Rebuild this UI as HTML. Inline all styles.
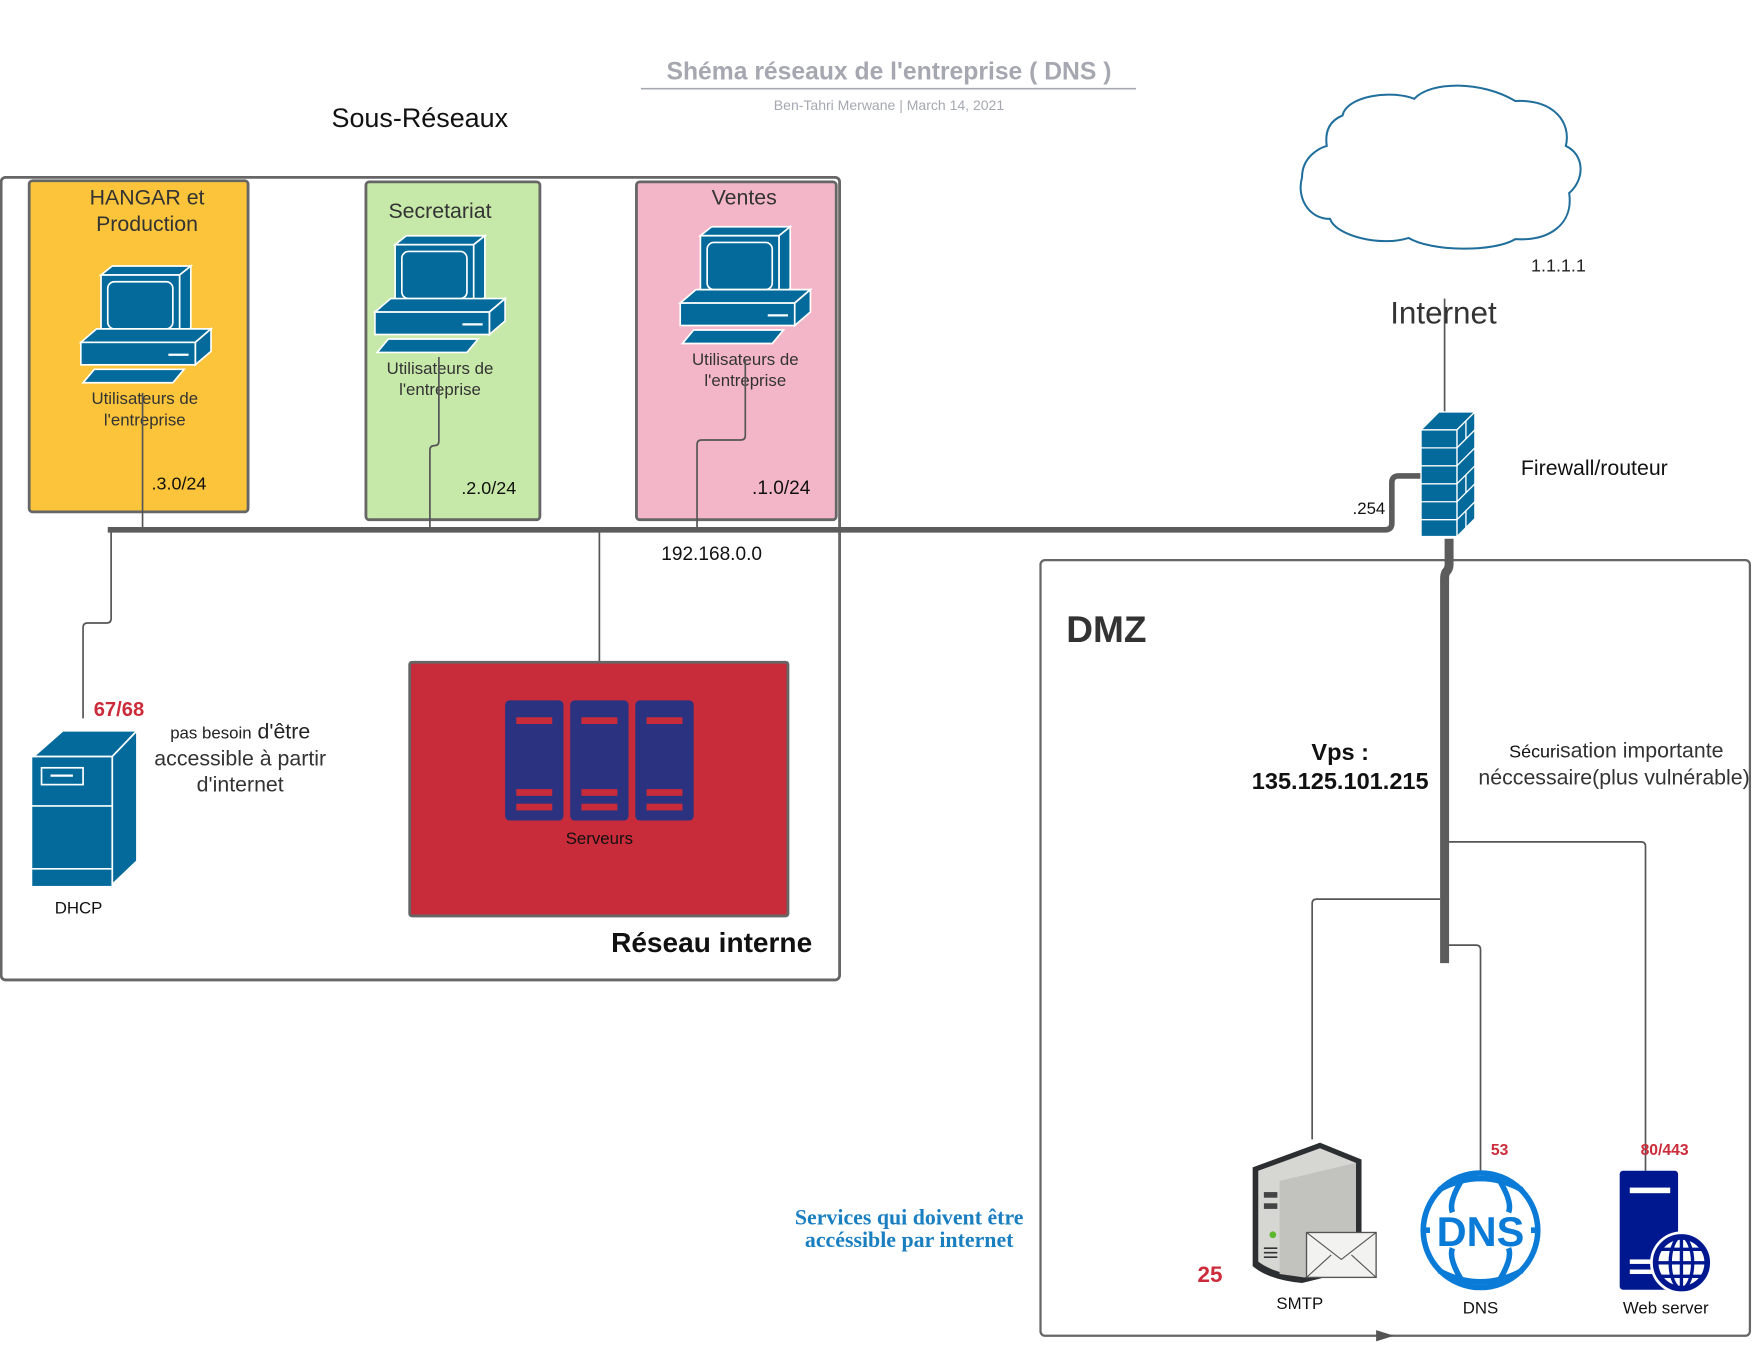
<!DOCTYPE html>
<html><head><meta charset="utf-8"><style>
html,body{margin:0;padding:0;background:#fff;}
svg{display:block;}
text{font-family:"Liberation Sans",sans-serif;}
</style></head><body>
<svg width="1760" height="1360" viewBox="0 0 1568 1211.6" preserveAspectRatio="none" xmlns="http://www.w3.org/2000/svg">
<defs>
<g id="pc" stroke="#fff" stroke-width="1.5" fill="#036a9b">
<polygon points="18,8 28,0 98,0 88,8"/>
<polygon points="88,8 98,0 98,55 88,63"/>
<rect x="18" y="8" width="70" height="55"/>
<rect x="24" y="14" width="58" height="42" rx="6"/>
<polygon points="0,68 14,56 116,56 102,68"/>
<polygon points="102,68 116,56 116,76 102,88"/>
<rect x="0" y="68" width="102" height="20"/>
<line x1="78" y1="79" x2="96" y2="79" stroke-width="2"/>
<polygon points="2,104 12,92 92,92 82,104"/>
</g>
</defs>

<text x="792" y="71" font-size="22" font-weight="bold" fill="#a5a8b0" text-anchor="middle">Shéma réseaux de l'entreprise ( DNS )</text>
<line x1="571" y1="79" x2="1012" y2="79" stroke="#a5a8b0" stroke-width="1.5"/>
<text x="792" y="98" font-size="12.5" fill="#a5a8b0" text-anchor="middle">Ben-Tahri Merwane  |  March 14, 2021</text>
<text x="374" y="113" font-size="24" fill="#111" text-anchor="middle">Sous-Réseaux</text>

<rect x="1" y="158" width="747" height="715" rx="4" fill="none" stroke="#666" stroke-width="2.5"/>
<rect x="26" y="161" width="195" height="295" rx="3" fill="#fbc43a" stroke="#666" stroke-width="2.5"/>
<rect x="326" y="162" width="155" height="301" rx="3" fill="#c6e8a8" stroke="#666" stroke-width="2.5"/>
<rect x="567" y="162" width="178" height="301" rx="3" fill="#f3b6c8" stroke="#666" stroke-width="2.5"/>

<text x="131" y="182" font-size="19" fill="#333" text-anchor="middle">HANGAR et</text>
<text x="131" y="206" font-size="19" fill="#333" text-anchor="middle">Production</text>
<text x="392" y="194" font-size="19" fill="#333" text-anchor="middle">Secretariat</text>
<text x="663" y="182" font-size="19" fill="#333" text-anchor="middle">Ventes</text>

<use href="#pc" x="72" y="237"/>
<use href="#pc" x="334" y="210"/>
<use href="#pc" x="606" y="202"/>

<text x="129" y="360" font-size="15" fill="#333" text-anchor="middle">Utilisateurs de</text>
<text x="129" y="379" font-size="15" fill="#333" text-anchor="middle">l'entreprise</text>
<text x="392" y="333" font-size="15" fill="#333" text-anchor="middle">Utilisateurs de</text>
<text x="392" y="352" font-size="15" fill="#333" text-anchor="middle">l'entreprise</text>
<text x="664" y="325" font-size="15" fill="#333" text-anchor="middle">Utilisateurs de</text>
<text x="664" y="344" font-size="15" fill="#333" text-anchor="middle">l'entreprise</text>

<text x="135" y="436" font-size="16" fill="#111">.3.0/24</text>
<text x="411" y="440" font-size="16" fill="#111">.2.0/24</text>
<text x="670" y="440" font-size="17" fill="#111">.1.0/24</text>

<g fill="none" stroke="#555" stroke-width="1.5">
<path d="M127 350 V472"/>
<path d="M391 318 V393 Q391 397 387 397 H387 Q383 397 383 401 V472"/>
<path d="M664 320 V388 Q664 392 660 392 H625 Q621 392 621 396 V472"/>
<path d="M534 472 V590"/>
<path d="M99 472 V551 Q99 555 95 555 H78 Q74 555 74 559 V640"/>
<path d="M1287 266 V370"/>
<path d="M1283 801 H1173 Q1169 801 1169 805 V1015"/>
<path d="M1287 842 H1315 Q1319 842 1319 846 V1043"/>
<path d="M1291 750 H1462 Q1466 750 1466 754 V1043"/>
</g>

<path d="M96 472 H1234 Q1240 472 1240 466 V430 Q1240 424 1246 424 H1268" fill="none" stroke="#5c5c5c" stroke-width="5"/>
<text x="634" y="499" font-size="17" fill="#111" text-anchor="middle">192.168.0.0</text>
<text x="1205" y="458" font-size="15" fill="#111">.254</text>

<rect x="927" y="499" width="632" height="691" rx="4" fill="none" stroke="#666" stroke-width="2"/>
<polygon points="1226,1185 1242,1190 1226,1195" fill="#555"/>
<text x="950" y="572" font-size="33" font-weight="bold" fill="#333">DMZ</text>

<path d="M1291 480 V503 Q1291 507 1288 510 Q1287 512 1287 516 V858" fill="none" stroke="#5c5c5c" stroke-width="8"/>

<g stroke="#fff" stroke-width="1.2" fill="#036a9b">
<polygon points="1266,383 1282,367 1314,367 1298,383"/>
<polygon points="1298,383 1314,367 1314,462 1298,478"/>
<rect x="1266" y="383" width="32" height="95"/>
<path d="M1266 399 H1298 M1266 415 H1298 M1266 431 H1298 M1266 447 H1298 M1266 463 H1298" fill="none"/>
<path d="M1298 399 L1314 383 M1298 415 L1314 399 M1298 431 L1314 415 M1298 447 L1314 431 M1298 463 L1314 447 M1306 375 V391 M1306 423 V439 M1306 455 V470" fill="none"/>
</g>
<text x="1355" y="423" font-size="19" fill="#111">Firewall/routeur</text>

<path d="M1196 103 C1200 85 1240 80 1260 88 C1275 72 1320 72 1350 90 C1385 88 1400 110 1395 130 C1412 138 1412 160 1398 172 C1402 200 1380 215 1350 213 C1330 225 1275 224 1255 212 C1230 220 1190 210 1185 195 C1165 195 1155 175 1160 158 C1160 140 1175 132 1182 130 C1180 115 1186 107 1196 103 Z" fill="#fff" stroke="#1f6e9c" stroke-width="1.8"/>
<text x="1364" y="242" font-size="16" fill="#222">1.1.1.1</text>
<text x="1286" y="288" font-size="28" fill="#333" text-anchor="middle">Internet</text>

<g stroke="#fff" stroke-width="1.5" fill="#036a9b">
<polygon points="30,674 56,651 122,651 100,674"/>
<polygon points="100,674 122,651 122,767 100,788"/>
<rect x="28" y="674" width="72" height="116"/>
<line x1="28" y1="718" x2="100" y2="718"/>
<line x1="28" y1="774" x2="100" y2="774"/>
<rect x="37" y="684" width="37" height="15" fill="none"/>
<line x1="45" y1="691" x2="65" y2="691" stroke-width="2"/>
</g>
<text x="70" y="814" font-size="15" fill="#111" text-anchor="middle">DHCP</text>
<text x="106" y="638" font-size="18" font-weight="bold" fill="#cc2b3a" text-anchor="middle">67/68</text>
<text x="214" y="658" font-size="19" fill="#222" text-anchor="middle"><tspan font-size="15">pas besoin</tspan> d'être</text>
<text x="214" y="682" font-size="19" fill="#333" text-anchor="middle">accessible à partir</text>
<text x="214" y="705" font-size="19" fill="#333" text-anchor="middle">d'internet</text>

<rect x="365" y="590" width="337" height="226" rx="2" fill="#c82b39" stroke="#666" stroke-width="2.5"/>
<g fill="#2b3381">
<rect x="450" y="624" width="52" height="107" rx="4"/>
<rect x="508" y="624" width="52" height="107" rx="4"/>
<rect x="566" y="624" width="52" height="107" rx="4"/>
</g>
<g fill="#c82b39">
<rect x="460" y="639" width="32" height="6"/><rect x="460" y="703" width="32" height="6"/><rect x="460" y="716" width="32" height="6"/>
<rect x="518" y="639" width="32" height="6"/><rect x="518" y="703" width="32" height="6"/><rect x="518" y="716" width="32" height="6"/>
<rect x="576" y="639" width="32" height="6"/><rect x="576" y="703" width="32" height="6"/><rect x="576" y="716" width="32" height="6"/>
</g>
<text x="534" y="752" font-size="15" fill="#111" text-anchor="middle">Serveurs</text>
<text x="634" y="848" font-size="25" font-weight="bold" fill="#111" text-anchor="middle">Réseau interne</text>

<text x="1194" y="677" font-size="21" font-weight="bold" fill="#111" text-anchor="middle">Vps :</text>
<text x="1194" y="703" font-size="21" font-weight="bold" fill="#111" text-anchor="middle">135.125.101.215</text>
<text x="1440" y="675" font-size="19" fill="#333" text-anchor="middle"><tspan font-size="16" fill="#111">Sécuri</tspan>sation importante</text>
<text x="1438" y="699" font-size="19" fill="#333" text-anchor="middle">néccessaire(plus vulnérable)</text>

<path d="M1116 1040 L1176 1018 L1213 1033 L1213 1130 L1160 1143 Q1130 1140 1116 1128 Z" fill="#2b2f31"/>
<path d="M1121 1043 L1176 1023 L1208 1036 L1208 1127 L1162 1138 Q1134 1134 1121 1124 Z" fill="#d6d7d3"/>
<path d="M1140 1052 L1208 1036 L1208 1127 L1162 1138 L1140 1135 Z" fill="#c2c3bf"/>
<rect x="1126" y="1062" width="12" height="5" fill="#444"/>
<rect x="1126" y="1072" width="12" height="5" fill="#444"/>
<circle cx="1134" cy="1100" r="3" fill="#5bb82c"/>
<path d="M1126 1112 H1138 M1126 1116 H1138 M1126 1120 H1138" stroke="#333" stroke-width="1.5"/>
<rect x="1164" y="1098" width="62" height="40" fill="#f2f2f0" stroke="#555" stroke-width="1.2"/>
<path d="M1164 1098 L1195 1122 L1226 1098 M1164 1138 L1186 1118 M1226 1138 L1204 1118" fill="none" stroke="#555" stroke-width="1"/>
<text x="1158" y="1166" font-size="15" fill="#111" text-anchor="middle">SMTP</text>
<text x="1078" y="1142" font-size="20" font-weight="bold" fill="#cc2b3a" text-anchor="middle">25</text>

<g fill="none" stroke="#0a7bd7" stroke-width="5">
<circle cx="1319" cy="1096" r="51"/>
<path d="M1282 1060 Q1319 1040 1356 1060 M1282 1132 Q1319 1152 1356 1132"/>
<path d="M1305 1047 Q1290 1070 1294 1080 M1333 1047 Q1348 1070 1344 1080 M1305 1145 Q1290 1122 1294 1112 M1333 1145 Q1348 1122 1344 1112"/>
<path d="M1268 1096 H1274 M1364 1096 H1370"/>
</g>
<text x="1319" y="1110" font-size="37" font-weight="bold" fill="#0a7bd7" text-anchor="middle">DNS</text>
<text x="1319" y="1170" font-size="15" fill="#111" text-anchor="middle">DNS</text>
<text x="1336" y="1029" font-size="14" font-weight="bold" fill="#cc2b3a" text-anchor="middle">53</text>

<rect x="1443" y="1043" width="52" height="106" rx="3" fill="#00188f"/>
<rect x="1452" y="1058" width="36" height="5" fill="#fff"/>
<rect x="1452" y="1122" width="20" height="4" fill="#fff"/>
<rect x="1452" y="1131" width="20" height="4" fill="#fff"/>
<circle cx="1498" cy="1125" r="28" fill="#fff"/>
<circle cx="1498" cy="1125" r="23" fill="none" stroke="#00188f" stroke-width="5"/>
<g fill="none" stroke="#00188f" stroke-width="3">
<ellipse cx="1498" cy="1125" rx="10" ry="23"/>
<path d="M1498 1102 V1148 M1475 1125 H1521 M1479 1113 H1517 M1479 1137 H1517"/>
</g>
<text x="1484" y="1170" font-size="15" fill="#111" text-anchor="middle">Web server</text>
<text x="1483" y="1029" font-size="14" font-weight="bold" fill="#cc2b3a" text-anchor="middle">80/443</text>

<text x="810" y="1091" font-size="19.5" font-weight="bold" fill="#1a7fc1" text-anchor="middle" style="font-family:'Liberation Serif',serif">Services qui doivent être</text>
<text x="810" y="1111" font-size="19.5" font-weight="bold" fill="#1a7fc1" text-anchor="middle" style="font-family:'Liberation Serif',serif">accéssible par internet</text>
</svg>
</body></html>
